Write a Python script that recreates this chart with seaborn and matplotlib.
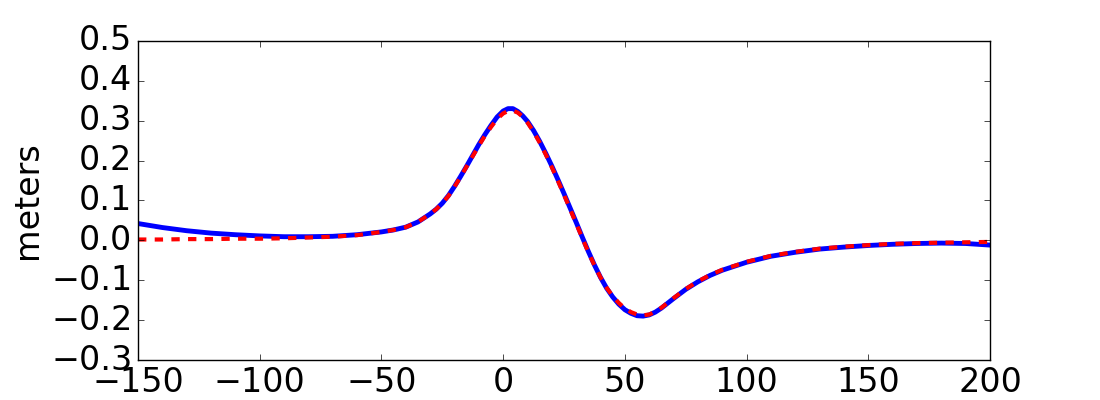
import numpy as np
import pandas as pd
import matplotlib
matplotlib.use("Agg")
import matplotlib.pyplot as plt
import seaborn as sns

# Values (same x samples for both curves)
x_vals = [-150, -140, -130, -120, -110, -100, -90, -80, -70, -60, -50, -45, -40, -35,
          -30, -27.5, -25, -22.5, -20, -17.5, -15, -12.5, -10, -7.5, -5, -2.5, 0, 2,
          4, 6, 8, 10, 12.5, 15, 17.5, 20, 22.5, 25, 27.5, 30, 32.5, 35, 37.5, 40,
          42.5, 45, 47.5, 50, 52.5, 55, 57.5, 60, 62.5, 65, 67.5, 70, 75, 80, 85, 90,
          100, 110, 120, 130, 140, 150, 160, 170, 180, 190, 200]
y_blue = [0.042, 0.032, 0.024, 0.018, 0.014, 0.011, 0.009, 0.009, 0.010, 0.014, 0.021,
          0.026, 0.033, 0.046, 0.066, 0.078, 0.093, 0.112, 0.135, 0.160, 0.186, 0.213,
          0.240, 0.265, 0.288, 0.309, 0.324, 0.330, 0.330, 0.323, 0.312, 0.298, 0.275,
          0.248, 0.218, 0.186, 0.152, 0.117, 0.081, 0.045, 0.008, -0.028, -0.062, -0.093,
          -0.120, -0.142, -0.160, -0.174, -0.183, -0.189, -0.190, -0.187, -0.180, -0.170,
          -0.158, -0.146, -0.123, -0.104, -0.088, -0.075, -0.055, -0.040, -0.030, -0.022,
          -0.017, -0.013, -0.010, -0.008, -0.007, -0.008, -0.012]
y_red = [0.002, 0.002, 0.003, 0.003, 0.004, 0.004, 0.005, 0.007, 0.009, 0.013, 0.021,
         0.026, 0.033, 0.046, 0.066, 0.078, 0.093, 0.111, 0.134, 0.159, 0.185, 0.211,
         0.237, 0.262, 0.284, 0.304, 0.318, 0.324, 0.325, 0.320, 0.310, 0.295, 0.272,
         0.245, 0.215, 0.183, 0.149, 0.114, 0.078, 0.042, 0.006, -0.030, -0.063, -0.093,
         -0.119, -0.140, -0.157, -0.171, -0.180, -0.186, -0.188, -0.186, -0.179, -0.169,
         -0.157, -0.145, -0.122, -0.103, -0.087, -0.074, -0.054, -0.039, -0.029, -0.021,
         -0.016, -0.012, -0.009, -0.007, -0.006, -0.005, -0.004]

plt.style.use("classic")
plt.rcParams["font.family"] = ["DejaVu Sans"]
plt.rcParams["font.size"] = 24

fig = plt.figure(figsize=(11, 4), dpi=100, facecolor="white")
ax = fig.add_axes([0.1255, 0.1, 0.7745, 0.798])

sns.lineplot(x=x_vals, y=y_blue, ax=ax, color="blue", linewidth=3.5, estimator=None)
sns.lineplot(x=x_vals, y=y_red, ax=ax, color="red", linewidth=3, linestyle="--",
             estimator=None)

ax.set_xlim(-150, 200)
ax.set_ylim(-0.3, 0.5)
ax.set_xticks([-150, -100, -50, 0, 50, 100, 150, 200])
ax.set_yticks([-0.3, -0.2, -0.1, 0.0, 0.1, 0.2, 0.3, 0.4, 0.5])
ax.set_ylabel("meters", fontsize=24)
ax.tick_params(labelsize=24)

fig.savefig("out.png", dpi=100, facecolor="white")
